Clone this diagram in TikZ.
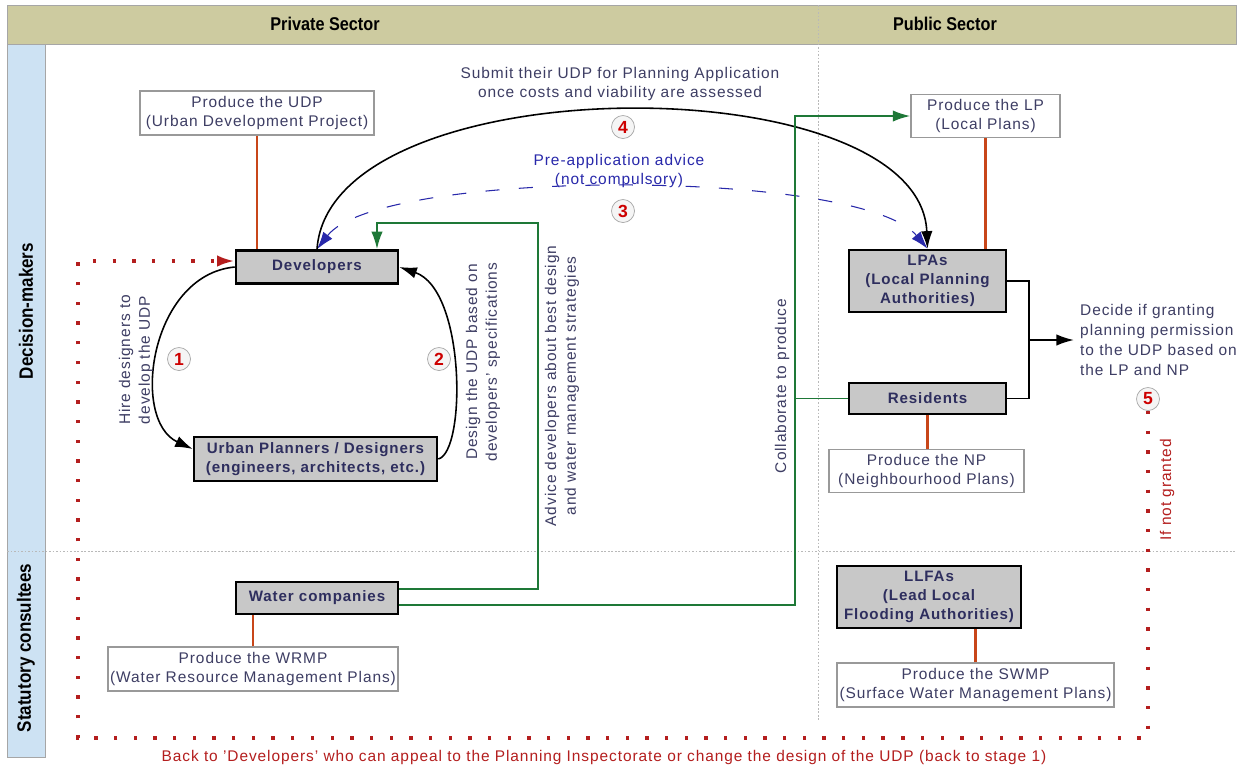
\documentclass[tikz,border=0pt]{standalone}
\usepackage{fontspec}
\setmainfont{Liberation Sans}[LetterSpace=6]
\newfontfamily\narrowfont{Liberation Sans}[FakeStretch=0.88]
\usetikzlibrary{arrows.meta,positioning}

\definecolor{headkhaki}{RGB}{205,203,160}
\definecolor{bandblue}{RGB}{205,226,243}
\definecolor{boxgray}{RGB}{200,200,200}
\definecolor{boxtext}{RGB}{46,46,94}
\definecolor{labeltext}{RGB}{62,62,100}
\definecolor{advblue}{RGB}{40,40,170}
\definecolor{loopred}{RGB}{180,30,30}
\definecolor{stagered}{RGB}{205,0,0}
\definecolor{prodline}{RGB}{200,70,25}
\definecolor{advgreen}{RGB}{30,120,55}

\tikzset{
  actor/.style   = {draw, line width=1.5pt, fill=boxgray, text=boxtext,
                    font=\bfseries\fontsize{8.6}{11}\selectfont, align=center,
                    inner sep=0pt},
  plan/.style    = {draw=gray!80, line width=0.8pt, fill=white, text=labeltext,
                    font=\fontsize{8.8}{11.3}\selectfont, align=center, inner sep=0pt},
  stage/.style   = {circle, draw=gray!70, fill=gray!8, text=stagered,
                    font=\bfseries\fontsize{10}{10}\selectfont,
                    minimum size=0.46cm, inner sep=0pt},
  note/.style    = {text=labeltext, font=\fontsize{8.8}{11.3}\selectfont, align=center},
  produces/.style = {draw=prodline, line width=1.3pt},
  advice/.style  = {draw=advgreen, line width=1.1pt},
  loopback/.style = {draw=loopred, line width=1.9pt, dash pattern=on 1.9pt off 9.3pt},
  band/.style    = {font=\narrowfont\bfseries\fontsize{11}{12}\selectfont, text=black}
}

\begin{document}
\begin{tikzpicture}[x=0.02cm, y=-0.02cm,
  >={Latex[length=10pt,width=6.5pt]}]

\useasboundingbox (0,0) rectangle (1246,769);
\fill[white] (0,0) rectangle (1246,769);

% swimlanes
\draw[gray!70, fill=headkhaki] (7,5) rectangle (1236,44);
\draw[gray!70, fill=bandblue] (7,44) rectangle (45,757);
\draw[gray!55, dash pattern=on 1pt off 1pt] (7,551) -- (1236,551);
\draw[gray!55, dash pattern=on 1pt off 1pt] (818,5) -- (818,720);

\node[band, font=\narrowfont\bfseries\fontsize{10.5}{12}\selectfont] (private) at (325,24) {Private Sector};
\node[band, font=\narrowfont\bfseries\fontsize{10.5}{12}\selectfont] (public) at (945,24) {Public Sector};
\node[band, rotate=90] (deciders) at (26,311) {Decision-makers};
\node[band, rotate=90] (consultees) at (26,648) {Statutory consultees};

% private sector
\node[plan, minimum width=4.68cm, minimum height=0.88cm] (udp) at (257,113)
  {Produce the UDP\\(Urban Development Project)};
\node[actor, minimum width=3.24cm, minimum height=0.66cm] (dev) at (317,267) {Developers};
\node[actor, minimum width=4.86cm, minimum height=0.88cm] (urban) at (315.5,459)
  {Urban Planners / Designers\\(engineers, architects, etc.)};
\node[actor, minimum width=3.24cm, minimum height=0.64cm] (water) at (317,598) {Water companies};
\node[plan, minimum width=5.8cm, minimum height=0.88cm] (wrmp) at (253,669)
  {Produce the WRMP\\(Water Resource Management Plans)};

% public sector
\node[plan, minimum width=2.98cm, minimum height=0.86cm] (lp) at (985.5,116)
  {Produce the LP\\(Local Plans)};
\node[actor, minimum width=3.14cm, minimum height=1.24cm] (lpa) at (927.5,281)
  {LPAs\\(Local Planning\\Authorities)};
\node[actor, minimum width=3.14cm, minimum height=0.62cm] (res) at (927.5,398.5) {Residents};
\node[plan, minimum width=3.9cm, minimum height=0.86cm] (np) at (926.5,471)
  {Produce the NP\\(Neighbourhood Plans)};
\node[actor, minimum width=3.68cm, minimum height=1.24cm] (llfa) at (929,597)
  {LLFAs\\(Lead Local\\Flooding Authorities)};
\node[plan, minimum width=5.54cm, minimum height=0.88cm] (swmp) at (975.5,685)
  {Produce the SWMP\\(Surface Water Management Plans)};

% who produces what
\draw[produces] (udp.south) -- (udp.south |- dev.north);
\draw[produces] (wrmp.north) -- (wrmp.north |- water.south);
\draw[produces] (lp.south) -- (lp.south |- lpa.north);
\draw[produces] (res.south) -- (res.south |- np.north);
\draw[produces] (swmp.north) -- (swmp.north |- llfa.south);

% stages 3 and 4
\draw[advblue, line width=0.6pt, dash pattern=on 8pt off 11pt, <->]
  (dev.north) .. controls (380,168) and (860,168) .. (lpa.north);
\draw[line width=0.9pt, ->]
  (dev.north) .. controls (330,64) and (920,64) .. (lpa.north);
\node[note] (submit) at (620,84)
  {Submit their UDP for Planning Application\\once costs and viability are assessed};
\node[stage] (s4) at (623,127) {4};
\node[note, text=advblue] (preapp) at (619,171) {Pre-application advice\\(not compulsory)};
\node[stage] (s3) at (623,211) {3};

% stages 1 and 2
\draw[line width=0.9pt, ->]
  (dev.west) .. controls (150,275) and (130,420) .. ([yshift=0.2cm]urban.west);
\draw[line width=0.9pt, ->]
  (urban.east) .. controls (466,452) and (466,290) .. (dev.east);
\node[stage] (s1) at (179,359) {1};
\node[stage] (s2) at (439,359) {2};
\node[note, rotate=90] (hire) at (136,360) {Hire designers to\\develop the UDP};
\node[note, rotate=90] (design) at (483,362) {Design the UDP based on\\developers' specifications};

% water companies
\coordinate (advtop) at (538,223);
\coordinate (collab) at (795,116);
\draw[advice, ->] ([yshift=0.18cm]water.east) -| (advtop) -| ([xshift=1.2cm]dev.north);
\draw[advice, ->] ([yshift=-0.14cm]water.east) -| (collab) -- (lp.west);
\draw[advice] (collab |- res.west) -- (res.west);
\node[note, rotate=90] (advtext) at (562,386)
  {Advice developers about best design\\and water management strategies};
\node[note, rotate=90] (collabtext) at (782,386) {Collaborate to produce};

% stage 5
\coordinate (join) at (1029,340);
\draw[line width=1.1pt] (lpa.east) -| (join) |- (res.east);
\node[note, align=left, anchor=west] (decide) at (1074,340)
  {Decide if granting\\planning permission\\to the UDP based on\\the LP and NP};
\draw[line width=1.1pt, ->] (join) -- (decide.west);
\node[stage] (s5) at (1148,399) {5};

% back to stage 1
\coordinate (loopbr) at (1148,738);
\coordinate (loopbl) at (78,738);
\draw[loopback, ->]
  (s5.south) -- (loopbr) -- (loopbl) |- ([yshift=0.12cm]dev.west);
\node[note, text=loopred, rotate=90] (notgranted) at (1167,490) {If not granted};
\node[note, text=loopred] (backto) at (604,757)
  {Back to 'Developers' who can appeal to the Planning Inspectorate or change the design of the UDP (back to stage 1)};

\end{tikzpicture}
\end{document}
